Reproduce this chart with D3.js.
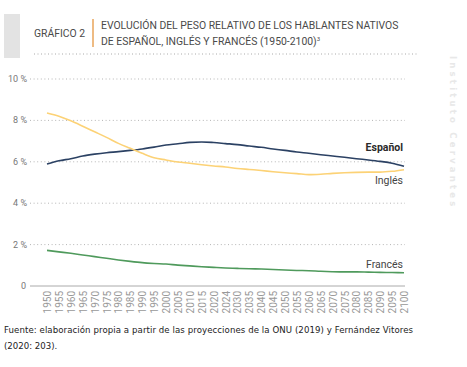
<!DOCTYPE html>
<html>
<head>
<meta charset="utf-8">
<script src="https://cdn.jsdelivr.net/npm/d3@7"></script>
<style>
  body { margin: 0; background: #fff; }
  svg { display: block; }
  .narrow { font-family: "Roboto", "Liberation Sans", sans-serif; }
</style>
</head>
<body>
<div class="canvas"></div>
<script>
// categories along the x axis (2024 stands in for 2025 in the source)
const years = ['1950','1955','1960','1965','1970','1975','1980','1985','1990','1995',
  '2000','2005','2010','2015','2020','2024','2030','2035','2040','2045',
  '2050','2055','2060','2065','2070','2075','2080','2085','2090','2095','2100'];

// share of native speakers, %
const espanol = [5.89,6.05,6.15,6.28,6.37,6.44,6.49,6.55,6.62,6.71,
  6.81,6.87,6.94,6.96,6.93,6.88,6.83,6.76,6.70,6.62,
  6.55,6.47,6.41,6.34,6.28,6.22,6.15,6.09,6.02,5.93,5.78];
const ingles = [8.36,8.20,7.98,7.72,7.45,7.18,6.89,6.65,6.41,6.20,
  6.09,5.99,5.93,5.86,5.80,5.75,5.68,5.63,5.58,5.52,
  5.47,5.43,5.38,5.40,5.44,5.47,5.49,5.50,5.50,5.54,5.62];
const frances = [1.72,1.65,1.58,1.50,1.42,1.34,1.26,1.19,1.13,1.09,
  1.06,1.01,0.97,0.93,0.90,0.87,0.85,0.83,0.82,0.80,
  0.77,0.75,0.74,0.71,0.69,0.68,0.68,0.67,0.66,0.65,0.64];

const yTicks = [0, 2, 4, 6, 8, 10];

const series = [
  { name: 'Español', values: espanol, color: '#2b4163', bold: true, labelY: 6.52 },
  { name: 'Inglés', values: ingles, color: '#fcd276', bold: false, labelY: 4.95 },
  { name: 'Francés', values: frances, color: '#4f9a5c', bold: false, labelY: 0.85 }
];

const W = 467, H = 367;
const m = { left: 30, right: 62, top: 79, bottom: 81 };

const svg = d3.select('.canvas').append('svg')
  .attr('width', W).attr('height', H);

// header: grey block, label, orange divider, title and dotted rule
svg.append('rect').attr('x', 4).attr('y', 14).attr('width', 16).attr('height', 44).attr('fill', '#e3e3e3');
svg.append('text').attr('class', 'narrow').attr('x', 34).attr('y', 37)
  .attr('font-size', 10.4).attr('fill', '#4a4a4a').text('GRÁFICO 2');
svg.append('line').attr('x1', 93).attr('x2', 93).attr('y1', 19).attr('y2', 47)
  .attr('stroke', '#e8a55a').attr('stroke-width', 1.5);
const title = svg.append('text').attr('class', 'narrow').attr('font-size', 10.4).attr('fill', '#4a4a4a');
title.append('tspan').attr('x', 101).attr('y', 29).text('EVOLUCIÓN DEL PESO RELATIVO DE LOS HABLANTES NATIVOS');
title.append('tspan').attr('x', 101).attr('y', 45).text('DE ESPAÑOL, INGLÉS Y FRANCÉS (1950-2100)');
title.append('tspan').attr('font-size', 6).attr('dy', -4).text('3');
svg.append('line').attr('x1', 34).attr('x2', 417).attr('y1', 54).attr('y2', 54)
  .attr('stroke', '#aaa').attr('stroke-dasharray', '1,2.5');

// watermark
svg.append('text')
  .attr('transform', 'translate(450,56) rotate(90)')
  .attr('font-family', 'DejaVu Sans, sans-serif').attr('font-weight', 'bold')
  .attr('font-size', 8.5).attr('letter-spacing', 3.2).attr('fill', '#e8e8e8')
  .text('Instituto Cervantes');

const x = d3.scalePoint().domain(years).range([47, 404]);
const y = d3.scaleLinear().domain([0, 10]).range([H - m.bottom, m.top]);

// gridlines
svg.append('g').selectAll('line').data(yTicks.filter(d => d > 0)).join('line')
  .attr('x1', 30).attr('x2', 405)
  .attr('y1', d => y(d)).attr('y2', d => y(d))
  .attr('stroke', '#b5b5b5').attr('stroke-dasharray', '1,2.6');

// y axis labels
svg.append('g').attr('class', 'narrow').selectAll('text').data(yTicks).join('text')
  .attr('x', d => d === 0 ? 26 : 27).attr('y', d => y(d) + 3)
  .attr('text-anchor', 'end').attr('font-size', 9).attr('fill', '#777')
  .text(d => d === 0 ? '0' : d + ' %');

// baseline
svg.append('line').attr('x1', 30).attr('x2', 405).attr('y1', y(0)).attr('y2', y(0))
  .attr('stroke', '#aaa').attr('stroke-width', 1);

// x axis labels
const xAxis = svg.append('g')
  .attr('transform', `translate(0,${y(0)})`)
  .call(d3.axisBottom(x).tickSize(0).tickPadding(0));
xAxis.select('.domain').remove();
xAxis.selectAll('text')
  .attr('font-family', 'Roboto, "Liberation Sans", sans-serif')
  .attr('font-size', 10).attr('fill', '#999')
  .attr('transform', 'rotate(-90)')
  .attr('text-anchor', 'end')
  .attr('x', -5).attr('y', 0).attr('dy', '0.35em');

// lines
const line = d3.line()
  .x((d, i) => x(years[i]))
  .y(d => y(d))
  .curve(d3.curveMonotoneX);

svg.append('g').selectAll('path').data(series).join('path')
  .attr('d', s => line(s.values))
  .attr('fill', 'none').attr('stroke', s => s.color).attr('stroke-width', 1.6);

svg.append('g').attr('class', 'narrow').selectAll('text').data(series).join('text')
  .attr('x', 403).attr('y', s => y(s.labelY))
  .attr('text-anchor', 'end').attr('font-size', 10.5)
  .attr('font-weight', s => s.bold ? 'bold' : 'normal')
  .attr('fill', s => s.bold ? '#2a2a2a' : '#444')
  .text(s => s.name);

// source note
const note = svg.append('text').attr('font-family', 'DejaVu Sans, Verdana, sans-serif')
  .attr('font-size', 8.6).attr('fill', '#222');
note.append('tspan').attr('x', 4).attr('y', 333)
  .attr('textLength', 409).attr('lengthAdjust', 'spacing')
  .text('Fuente: elaboración propia a partir de las proyecciones de la ONU (2019) y Fernández Vitores');
note.append('tspan').attr('x', 4).attr('y', 349).text('(2020: 203).');
</script>
</body>
</html>
